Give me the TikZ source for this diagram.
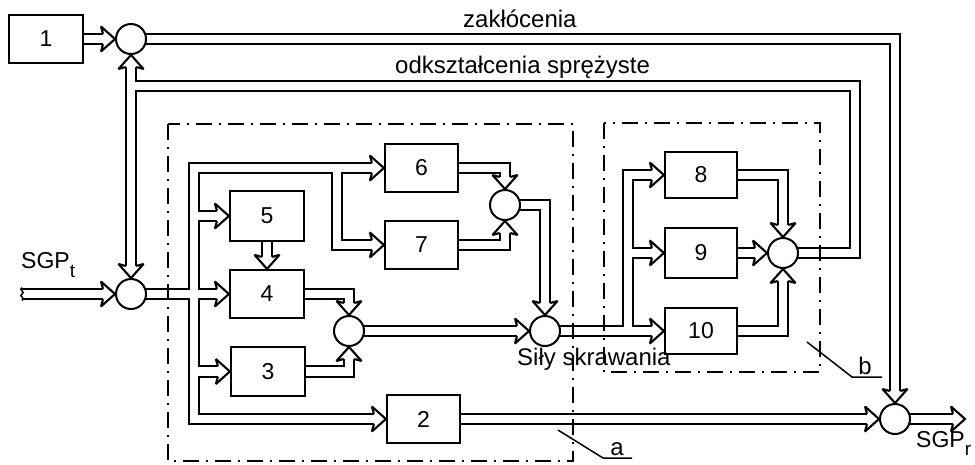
\documentclass[tikz,border=0pt]{standalone}
\usepackage{fontspec}
\setmainfont{Liberation Sans}
\usetikzlibrary{calc}
\pgfdeclarelayer{bg}
\pgfsetlayers{bg,main}
\newcommand\numfont{\fontsize{23}{27}\selectfont}
\newcommand\lblfont{\fontsize{24}{28}\selectfont}
\newcommand\subfont{\fontsize{19}{19}\selectfont}
\newcommand\pipenet[1]{%
 \path[#1,arr] (b1) -- (s1.west);
 \path[#1,arr] (s1.center) -| (s7.north);
 \path[#1,arr] (s6.center) -| (jr) -| (s1.south);
 \path[#1,arr] (j1) -- (s2.north);
 \path[#1,arr] (in) -- (s2.west);
 \path[#1,arr] (s2.center) -- (b4.west);
 \path[#1,arr,arrs] (b6.west) -- (bt) -- (bb) -- (b2.west);
 \path[#1,arr] (j67) |- (b7.west);
 \path[#1,arr] (bt |- b5) -- (b5.west);
 \path[#1,arr] (bt |- b3) -- (b3.west);
 \path[#1,arr] (b5) -- (b4.north);
 \path[#1,arr] (b4) -| (s3.north);
 \path[#1,arr] (b3) -| (s3.south);
 \path[#1,arr] (s3.center) -- (s4.west);
 \path[#1,arr] (b6) -| (s5.north);
 \path[#1,arr] (b7) -| (s5.south);
 \path[#1,arr] (s5.center) -| (s4.north);
 \path[#1,arr] (s4.center) -- (b10.west);
 \path[#1,arr] (j9b) |- (b8.west);
 \path[#1,arr] (j9b |- b9) -- (b9.west);
 \path[#1,arr] (b8) -| (s6.north);
 \path[#1,arr] (b9) -- (s6.west);
 \path[#1,arr] (b10) -| (s6.south);
 \path[#1,arr] (b2) -- (s7.west);
 \path[#1,arr] (s7.center) -- (out);
}
\tikzset{
 blk/.style={draw, line width=2.2pt, fill=white, inner sep=0pt, font=\numfont},
 sum/.style={circle, draw, line width=2pt, fill=white, minimum size=30pt, inner sep=0pt},
 pipeB/.style={draw=black, line width=12.6pt, line join=miter},
 pipeW/.style={draw=white, line width=8.2pt, line join=miter},
 arr/.style={shorten >=12pt},
 arrs/.style={shorten <=12pt},
 ahd/.style={fill=white, draw=black, line width=2.1pt, line join=miter, miter limit=3},
 ahR/.pic={\draw[ahd] (-12,-5.2) -- (-14,-12.5) -- (0,0) -- (-14,12.5) -- (-12,5.2);},
 ahD/.pic={\draw[ahd] (-5.2,-12) -- (-12.5,-14) -- (0,0) -- (12.5,-14) -- (5.2,-12);},
 ahU/.pic={\draw[ahd] (-5.2,12) -- (-12.5,14) -- (0,0) -- (12.5,14) -- (5.2,12);},
 lbl/.style={font=\lblfont, inner sep=0pt},
 dashdot/.style={line width=1.8pt, dash pattern=on 16pt off 7pt on 2pt off 7pt},
 leader/.style={line width=1.5pt},
}
\begin{document}
\begin{tikzpicture}[x=1pt,y=-1pt]
\useasboundingbox (0,0) rectangle (975,464);
% blocks
\node[blk, minimum width=74pt, minimum height=48pt] (b1) at (46,39) {1};
\node[blk, minimum width=74pt, minimum height=50pt] (b5) at (267,216) {5};
\node[blk, minimum width=74pt, minimum height=48pt] (b4) at (267,294) {4};
\node[blk, minimum width=74pt, minimum height=49pt] (b3) at (268,371.5) {3};
\node[blk, minimum width=73pt, minimum height=48pt] (b2) at (423.5,419) {2};
\node[blk, minimum width=73pt, minimum height=48pt] (b6) at (421.5,168) {6};
\node[blk, minimum width=73pt, minimum height=48pt] (b7) at (421.5,245) {7};
\node[blk, minimum width=72pt, minimum height=46pt] (b8) at (701,175) {8};
\node[blk, minimum width=72pt, minimum height=50pt] (b9) at (701,253) {9};
\node[blk, minimum width=72pt, minimum height=46pt] (b10) at (701,331) {10};
% summing points
\node[sum] (s1) at (131,39) {};
\node[sum] (s2) at (131,294) {};
\node[sum] (s3) at (349,331) {};
\node[sum] (s4) at (545,331) {};
\node[sum] (s5) at (505,205) {};
\node[sum] (s6) at (783,253) {};
\node[sum] (s7) at (895,419) {};
% junctions
\coordinate (jr) at (855,86);
\coordinate (j1) at (131,86);
\coordinate (in) at (22,294);
\coordinate (bt) at (194,168);
\coordinate (bb) at (194,419);
\coordinate (j67) at (337,168);
\coordinate (j9b) at (628,331);
\coordinate (out) at (965,419);
\begin{pgfonlayer}{bg}
 \pipenet{pipeB}
 \pipenet{pipeW}
 \pic at (s1.west) {ahR};
 \pic at (s7.north) {ahD};
 \pic at (s1.south) {ahU};
 \pic at (s2.north) {ahD};
 \pic at (s2.west) {ahR};
 \pic at (b4.west) {ahR};
 \pic at (b6.west) {ahR};
 \pic at (b2.west) {ahR};
 \pic at (b7.west) {ahR};
 \pic at (b5.west) {ahR};
 \pic at (b3.west) {ahR};
 \pic at (b4.north) {ahD};
 \pic at (s3.north) {ahD};
 \pic at (s3.south) {ahU};
 \pic at (s4.west) {ahR};
 \pic at (s5.north) {ahD};
 \pic at (s5.south) {ahU};
 \pic at (s4.north) {ahD};
 \pic at (b10.west) {ahR};
 \pic at (b8.west) {ahR};
 \pic at (b9.west) {ahR};
 \pic at (s6.north) {ahD};
 \pic at (s6.west) {ahR};
 \pic at (s6.south) {ahU};
 \pic at (s7.west) {ahR};
 \pic at (out) {ahR};
\end{pgfonlayer}
% ragged input end
\draw[line width=1.5pt] (22,287.5) .. controls (18,290) and (26,292) .. (22,294) .. controls (18,296) and (26,298) .. (22,300.5);
% subsystem frames
\draw[dashdot] (168,124) rectangle (573,461);
\draw[dashdot] (604,123) rectangle (820,372);
% labels
\node[lbl, anchor=base west] (tz) at (463,27) {zakłócenia};
\node[lbl, anchor=base west] (to) at (395,73) {odkształcenia sprężyste};
\node[lbl, anchor=base west] (ts) at (517,365) {Siły skrawania};
\node[font=\numfont, inner sep=0pt, anchor=base west] (tin) at (21,268) {SGP\raisebox{-9pt}{\subfont t}};
\node[font=\numfont, inner sep=0pt, anchor=base west] (tout) at (916,447) {SGP\raisebox{-8pt}{\subfont r}};
\coordinate (la0) at (558,430);
\coordinate (la1) at (603,458);
\coordinate (la2) at (632,458);
\coordinate (lb0) at (807,342);
\coordinate (lb1) at (852,377);
\coordinate (lb2) at (882,377);
\draw[leader] (la0) -- (la1) -- (la2);
\draw[leader] (lb0) -- (lb1) -- (lb2);
\node[lbl, anchor=base] (ta) at (617,455) {a};
\node[lbl, anchor=base] (tb) at (865,374) {b};
\end{tikzpicture}
\end{document}
